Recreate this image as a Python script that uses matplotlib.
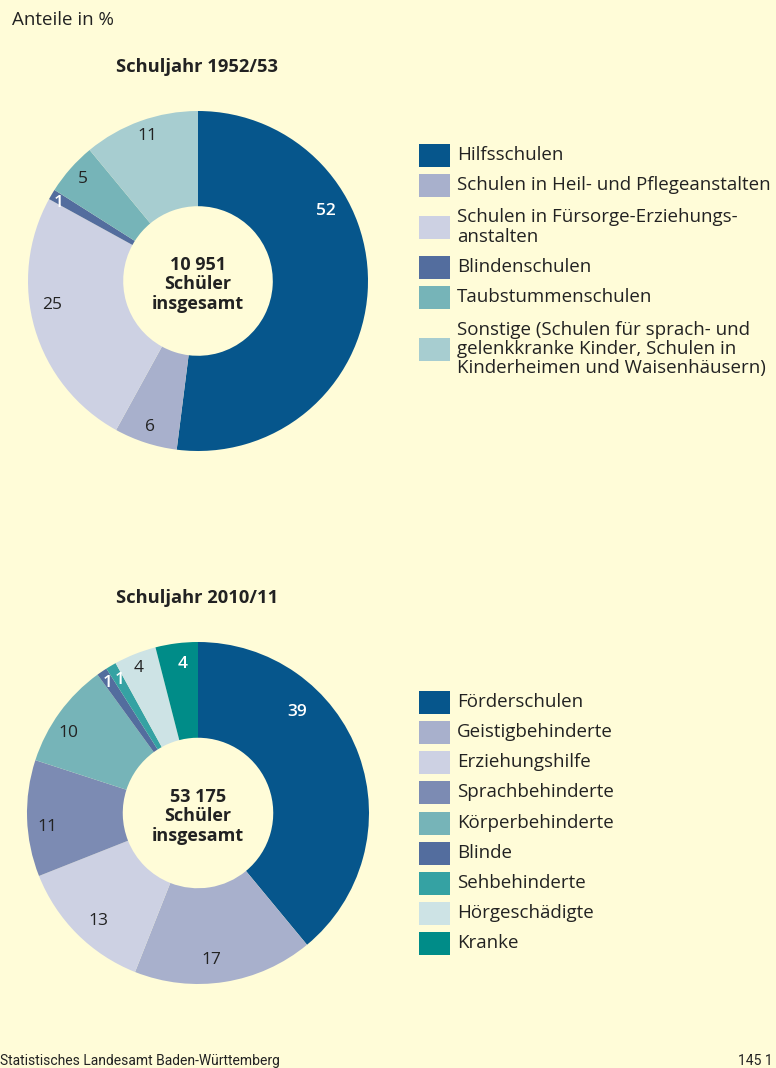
import matplotlib
matplotlib.use("Agg")
import matplotlib.pyplot as plt
from matplotlib.patches import Rectangle

plt.rcParams['font.family'] = ['Open Sans', 'DejaVu Sans']

BG = '#FFFCD8'
DARK = '#222222'

# ---------------- data ----------------
title1 = "Schuljahr 1952/53"
total1 = "10 951"
cats1 = ["Hilfsschulen", "Schulen in Heil- und Pflegeanstalten",
         "Schulen in Fürsorge-Erziehungs-\nanstalten", "Blindenschulen",
         "Taubstummenschulen",
         "Sonstige (Schulen für sprach- und\ngelenkkranke Kinder, Schulen in\nKinderheimen und Waisenhäusern)"]
vals1 = [52, 6, 25, 1, 5, 11]
cols1 = ['#06568C', '#A8B0CC', '#CDD1E3', '#536D9E', '#76B4B8', '#A7CDD0']

title2 = "Schuljahr 2010/11"
total2 = "53 175"
cats2 = ["Förderschulen", "Geistigbehinderte", "Erziehungshilfe", "Sprachbehinderte",
         "Körperbehinderte", "Blinde", "Sehbehinderte", "Hörgeschädigte", "Kranke"]
vals2 = [39, 17, 13, 11, 10, 1, 1, 4, 4]
cols2 = ['#06568C', '#A8B0CC', '#CDD1E3', '#7C8BB3', '#76B4B8', '#536D9E',
         '#35A2A3', '#CDE3E5', '#008C88']

footer_left = "Statistisches Landesamt Baden-Württemberg"
footer_right = "145 1"

# ---------------- layout (pixels) ----------------
W, H = 776, 1068
# label positions in pie-axes units (radius = 1)
lab1_xy = [(0.75, 0.41), (-0.28, -0.86), (-0.86, -0.14), (-0.82, 0.46), (-0.68, 0.60), (-0.30, 0.85)]
lab1_white = [True, False, False, True, False, False]
lab2_xy = [(0.58, 0.59), (0.08, -0.86), (-0.58, -0.63), (-0.88, -0.08), (-0.76, 0.47),
           (-0.53, 0.76), (-0.46, 0.78), (-0.35, 0.85), (-0.09, 0.87)]
lab2_white = [True, False, False, False, False, True, True, False, True]

leg1_y = [155, 185, 227, 267, 297, 349]
leg2_y = [702, 732, 762, 792, 823, 853, 883, 913, 943]

fig = plt.figure(figsize=(W / 100, H / 100), dpi=100, facecolor=BG)

# overlay axes in pixel coords (top-left origin)
ov = fig.add_axes([0, 0, 1, 1], facecolor='none')
ov.set_xlim(0, W)
ov.set_ylim(H, 0)
ov.axis('off')


def donut(cx, cy, r, vals, cols, labels_xy, whites, total, title):
    ax = fig.add_axes([(cx - r) / W, 1 - (cy + r) / H, 2 * r / W, 2 * r / H])
    ax.pie(vals, colors=cols, startangle=90, counterclock=False, radius=1,
           wedgeprops=dict(width=0.56, linewidth=0))
    ax.set_xlim(-1, 1)
    ax.set_ylim(-1, 1)
    ax.set_aspect('equal')
    ax.axis('off')
    for v, (x, y), w in zip(vals, labels_xy, whites):
        ax.text(x, y, str(v), ha='center', va='center', fontsize=12.5,
                color='white' if w else DARK, fontweight='semibold' if w else 'normal')
    ax.text(0, -0.02, f"{total}\nSchüler\ninsgesamt", ha='center', va='center',
            fontsize=13, fontweight='bold', color=DARK, linespacing=1.12)
    ov.text(cx - 1, cy - r - 44, title, ha='center', va='center', fontsize=13.2,
            fontweight='bold', color=DARK)


donut(198, 281, 170, vals1, cols1, lab1_xy, lab1_white, total1, title1)
donut(198, 813, 171, vals2, cols2, lab2_xy, lab2_white, total2, title2)


def legend(cats, cols, ys):
    for c, col, y in zip(cats, cols, ys):
        ov.add_patch(Rectangle((419, y - 11.5), 31, 23, facecolor=col, edgecolor='none'))
        ov.text(457, y, c, ha='left', va='center', fontsize=13.5, color=DARK,
                linespacing=1.1)


legend(cats1, cols1, leg1_y)
legend(cats2, cols2, leg2_y)

ov.text(12, 20, "Anteile in %", ha='left', va='center', fontsize=13.5, color=DARK)
ov.text(0, 1061, footer_left, ha='left', va='center',
        fontsize=10, color=DARK, family=['Liberation Sans Narrow', 'Roboto', 'DejaVu Sans'])
ov.text(773, 1061, footer_right, ha='right', va='center', fontsize=10, color=DARK,
        family=['Liberation Sans Narrow', 'Roboto', 'DejaVu Sans'])

fig.savefig("out.png", dpi=100, facecolor=BG)
